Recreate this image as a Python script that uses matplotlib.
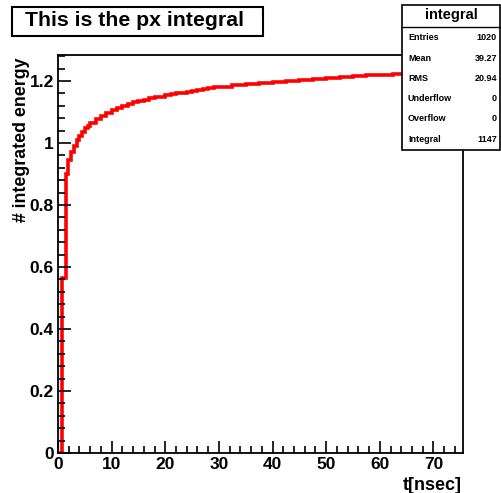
import matplotlib
matplotlib.use("Agg")
import matplotlib.pyplot as plt
from matplotlib.patches import Rectangle
from matplotlib.ticker import MultipleLocator

plt.rcParams['font.family'] = ['Liberation Sans', 'DejaVu Sans']
plt.rcParams['font.weight'] = 'bold'

# bin edges [nsec] and cumulative (integrated) energy per bin
t_edges = [0, 0.8, 1.4, 1.9, 2.5, 3, 3.5, 4, 4.5, 5, 5.5, 6, 7, 8, 9, 10,
           11, 12, 13, 14, 15, 16, 17, 18, 19, 20, 21, 22, 23, 24, 25, 26,
           27, 28, 29, 30, 32.5, 35, 37.5, 40, 42.5, 45, 47.5, 50, 52.5, 55,
           57.5, 60, 62.5, 65, 67.5, 70, 75.5]
energy = [0, 0.565, 0.90, 0.945, 0.972, 0.992, 1.010, 1.024, 1.036, 1.047,
          1.056, 1.064, 1.076, 1.088, 1.098, 1.106, 1.114, 1.121, 1.127,
          1.132, 1.136, 1.140, 1.144, 1.147, 1.150, 1.154, 1.157, 1.160,
          1.163, 1.166, 1.169, 1.172, 1.175, 1.177, 1.180, 1.182, 1.187,
          1.191, 1.194, 1.197, 1.200, 1.204, 1.207, 1.210, 1.213, 1.216,
          1.218, 1.221, 1.222, 1.223, 1.224, 1.225]

stat_names = ['Entries', 'Mean', 'RMS', 'Underflow', 'Overflow', 'Integral']
stat_values = ['1020', '39.27', '20.94', '0', '0', '1147']

W, H = 502, 493
fig = plt.figure(figsize=(W / 100, H / 100), dpi=100)
ax = fig.add_axes([58 / W, 1 - 453 / H, (463 - 58) / W, (453 - 55) / H])

ax.stairs(energy, t_edges, baseline=None, color='red', linewidth=2.6)

ax.set_xlim(0, 75.5)
ax.set_ylim(0, 1.284)
ax.xaxis.set_major_locator(MultipleLocator(10))
ax.xaxis.set_minor_locator(MultipleLocator(2))
ax.yaxis.set_major_locator(MultipleLocator(0.2))
ax.yaxis.set_minor_locator(MultipleLocator(0.04))
ax.tick_params(which='both', direction='in', top=False, right=False,
               width=1.2, labelsize=12.5)
ax.tick_params(which='major', length=9, pad=3)
ax.tick_params(which='minor', length=5)
ax.set_yticks([0, 0.2, 0.4, 0.6, 0.8, 1.0, 1.2])
ax.set_yticklabels(['0', '0.2', '0.4', '0.6', '0.8', '1', '1.2'])
for s in ax.spines.values():
    s.set_linewidth(1.3)

fig.text(462 / W, 1 - 485 / H, 't[nsec]', ha='right', va='center',
         fontsize=13, fontweight='bold')
fig.text(22 / W, 1 - 58 / H, '# integrated energy', ha='center', va='top',
         rotation=90, fontsize=12.8, fontweight='bold')

# title box
fig.patches.append(Rectangle((12 / W, 1 - 36 / H), (263 - 12) / W, 29 / H,
                             transform=fig.transFigure, fill=False,
                             edgecolor='black', linewidth=1.5))
fig.text(135 / W, 1 - 20 / H, 'This is the px integral', ha='center',
         va='center', fontsize=15.3, fontweight='bold')

# stats box
bx0, bx1, by0, by1 = 402, 500, 5, 150
fig.patches.append(Rectangle((bx0 / W, 1 - by1 / H), (bx1 - bx0) / W,
                             (by1 - by0) / H, transform=fig.transFigure,
                             facecolor='white', edgecolor='black',
                             linewidth=1.2, zorder=5))
fig.lines.append(plt.Line2D([bx0 / W, bx1 / W], [1 - 27 / H, 1 - 27 / H],
                            transform=fig.transFigure, color='black',
                            linewidth=1.0, zorder=6))
fig.text((bx0 + bx1) / 2 / W, 1 - 15 / H, 'integral', ha='center',
         va='center', fontsize=10.5, fontweight='bold', zorder=7)
for i, (n, v) in enumerate(zip(stat_names, stat_values)):
    y = 38 + i * 20.2
    fig.text(408 / W, 1 - y / H, n, ha='left', va='center', fontsize=6.5,
             fontweight='bold', zorder=7)
    fig.text(497 / W, 1 - y / H, v, ha='right', va='center', fontsize=6.5,
             fontweight='bold', zorder=7)

fig.savefig('out.png', dpi=100)
